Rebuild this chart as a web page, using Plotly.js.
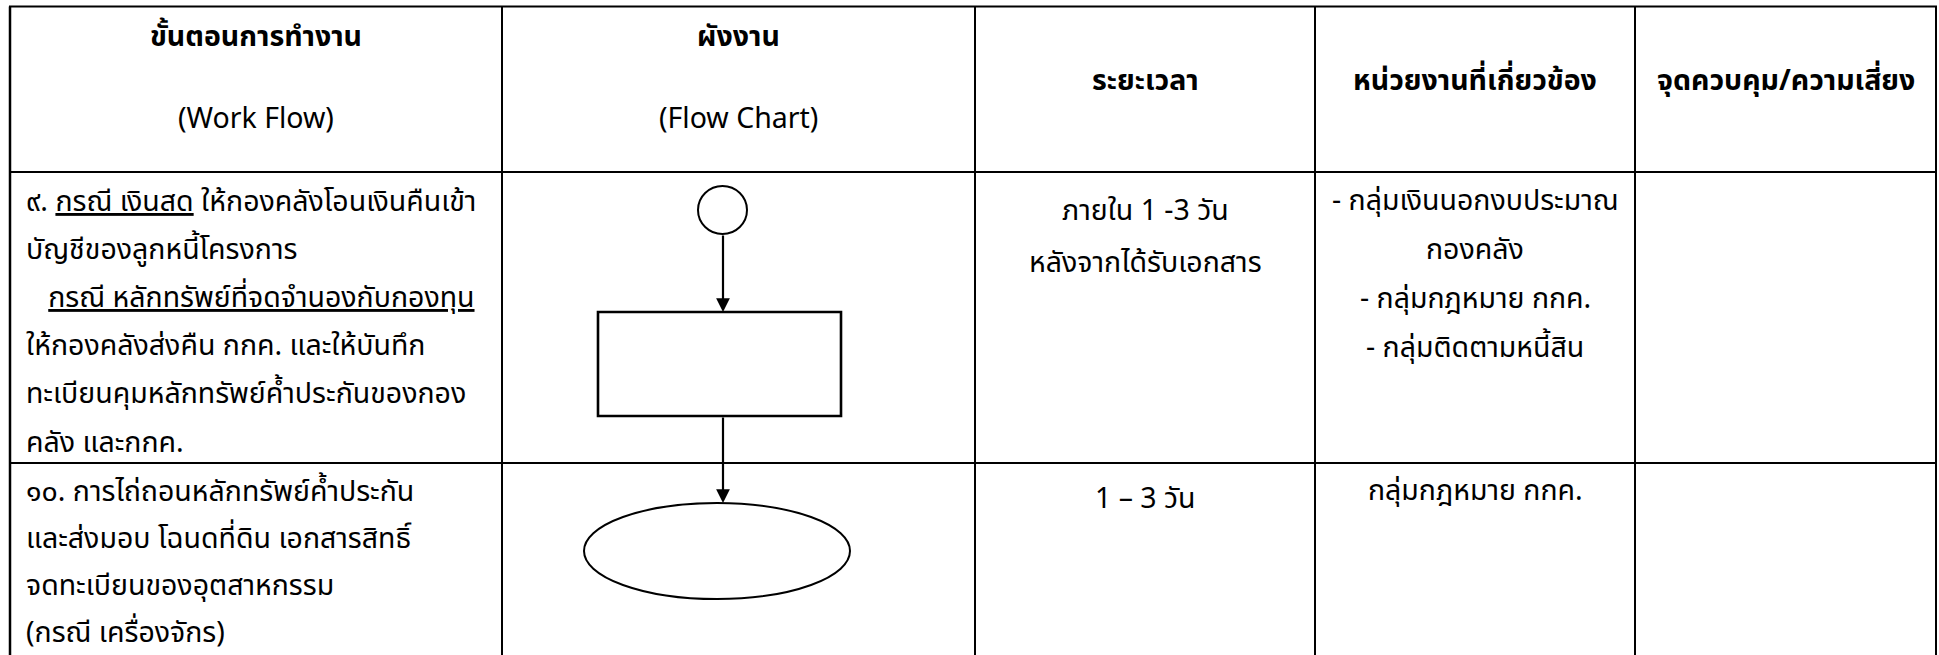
<!DOCTYPE html>
<html>
<head>
<meta charset="utf-8">
<script src="https://cdn.plot.ly/plotly-3.0.1.min.js"></script>
<style>html,body{margin:0;padding:0;background:#fff;}#chart{width:1939px;height:655px;}</style>
</head>
<body>
<div id="chart"></div>
<script>
// ---------- DATA ----------
const headerTitles = ["ขั้นตอนการทำงาน", "ผังงาน", "ระยะเวลา", "หน่วยงานที่เกี่ยวข้อง", "จุดควบคุม/ความเสี่ยง"];
const headerSubtitles = ["(Work Flow)", "(Flow Chart)", "", "", ""];

const stepLines = [
  ["๙. <u>กรณี เงินสด</u> ให้กองคลังโอนเงินคืนเข้า",
   "บัญชีของลูกหนี้โครงการ",
   "\u00a0\u00a0\u00a0<u>กรณี หลักทรัพย์ที่จดจำนองกับกองทุน</u>",
   "ให้กองคลังส่งคืน กกค. และให้บันทึก",
   "ทะเบียนคุมหลักทรัพย์ค้ำประกันของกอง",
   "คลัง และกกค."],
  ["๑๐. การไถ่ถอนหลักทรัพย์ค้ำประกัน",
   "และส่งมอบ โฉนดที่ดิน เอกสารสิทธิ์",
   "จดทะเบียนของอุตสาหกรรม",
   "(กรณี เครื่องจักร)"]
];
const durationLines = [
  ["ภายใน 1 -3 วัน", "หลังจากได้รับเอกสาร"],
  ["1 – 3 วัน"]
];
const unitLines = [
  ["- กลุ่มเงินนอกงบประมาณ", "กองคลัง", "- กลุ่มกฎหมาย กกค.", "- กลุ่มติดตามหนี้สิน"],
  ["กลุ่มกฎหมาย กกค."]
];
const controlLines = [[], []];
const flowShapes = ["circle", "rect", "ellipse"];

// ---------- LAYOUT (positions / styles) ----------
const W = 1939, H = 655;
const colX = [10, 502, 975, 1315, 1635, 1936];
const tableTop = 6.5, headerBottom = 172, rowDivider = 463;
const FONT = "'Noto Sans Thai', 'Noto Sans Thai UI', 'Noto Sans', sans-serif";
const black = "#000";

const shapes = [];
const annotations = [];
function hline(y, x0, x1, w) { shapes.push({type:'line', xref:'x', yref:'y', x0:x0, x1:x1, y0:y, y1:y, line:{color:black, width:w}}); }
function vline(x, y0, y1, w) { shapes.push({type:'line', xref:'x', yref:'y', x0:x, x1:x, y0:y0, y1:y1, line:{color:black, width:w}}); }

hline(tableTop, colX[0]-1, colX[5]+1, 2.2);
hline(headerBottom, colX[0], colX[5], 2.2);
hline(rowDivider, colX[0], colX[5], 2.2);
colX.forEach((x, i) => vline(x, tableTop, H + 5, (i === 0) ? 2.5 : 2));

// header text
const headerSize = 28.5;
const headerTitleY = [37, 37, 81, 81, 81];
const headerSubY = 119;
headerTitles.forEach((t, i) => {
  const cx = (colX[i] + colX[i+1]) / 2;
  annotations.push({x:cx, y:headerTitleY[i], xref:'x', yref:'y', text:'<b>'+t+'</b>', showarrow:false,
    xanchor:'center', yanchor:'middle', font:{family:FONT, size:headerSize, color:black}});
  if (headerSubtitles[i]) {
    annotations.push({x:cx, y:headerSubY, xref:'x', yref:'y', text:headerSubtitles[i], showarrow:false,
      xanchor:'center', yanchor:'middle', font:{family:FONT, size:headerSize, color:black}});
  }
});

// body text
const rowStart = [{step:202, dur:211, unit:201, gap:48.2}, {step:492, dur:499, unit:491, gap:47.3}];
const durGap = 52, unitGap = 49;
const bodySize = 28.5;
stepLines.forEach((lines, r) => lines.forEach((t, k) => {
  annotations.push({x:24, y:rowStart[r].step + k*rowStart[r].gap, xref:'x', yref:'y', text:t, showarrow:false,
    xanchor:'left', yanchor:'middle', font:{family:FONT, size:bodySize, color:black}});
}));
durationLines.forEach((lines, r) => lines.forEach((t, k) => {
  annotations.push({x:(colX[2]+colX[3])/2, y:rowStart[r].dur + k*durGap, xref:'x', yref:'y', text:t, showarrow:false,
    xanchor:'center', yanchor:'middle', font:{family:FONT, size:bodySize, color:black}});
}));
unitLines.forEach((lines, r) => lines.forEach((t, k) => {
  annotations.push({x:(colX[3]+colX[4])/2, y:rowStart[r].unit + k*unitGap, xref:'x', yref:'y', text:t, showarrow:false,
    xanchor:'center', yanchor:'middle', font:{family:FONT, size:bodySize, color:black}});
}));

// flow chart
const flowBoxes = {
  circle:  {x0:698, x1:747, y0:186, y1:234},
  rect:    {x0:598, x1:841, y0:312, y1:416},
  ellipse: {x0:584, x1:850, y0:503, y1:599}
};
const flowX = 723;
flowShapes.forEach(kind => {
  const b = flowBoxes[kind];
  shapes.push({type: kind === 'rect' ? 'rect' : 'circle', xref:'x', yref:'y',
    x0:b.x0, x1:b.x1, y0:b.y0, y1:b.y1, line:{color:black, width: kind==='rect' ? 2.6 : 2}, fillcolor:'rgba(0,0,0,0)'});
});
for (let i = 0; i < flowShapes.length - 1; i++) {
  const a = flowBoxes[flowShapes[i]], b = flowBoxes[flowShapes[i+1]];
  annotations.push({x:flowX, y:b.y0, ax:flowX, ay:a.y1, xref:'x', yref:'y', axref:'x', ayref:'y',
    text:'', showarrow:true, arrowhead:2, arrowsize:1.25, arrowwidth:2.2, arrowcolor:black, standoff:0, startstandoff:0});
}

const layout = {
  width: W, height: H,
  margin: {l:0, r:0, t:0, b:0, pad:0},
  paper_bgcolor: '#fff', plot_bgcolor: '#fff',
  xaxis: {range:[0, W], visible:false, fixedrange:true},
  yaxis: {range:[H, 0], visible:false, fixedrange:true},
  showlegend: false,
  shapes: shapes,
  annotations: annotations
};
Plotly.newPlot('chart', [], layout, {staticPlot:true, displayModeBar:false});
</script>
</body>
</html>
